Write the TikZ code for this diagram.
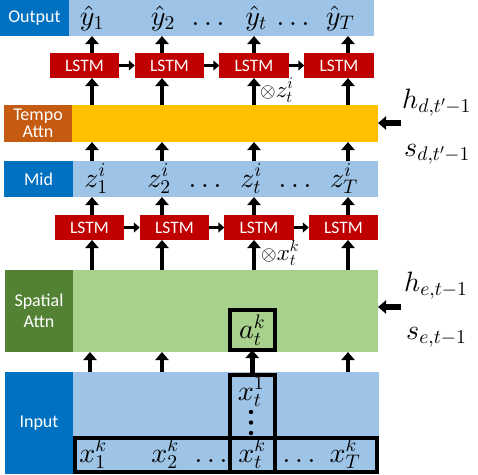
\documentclass[tikz,border=0pt]{standalone}
\usepackage{fontspec}
\newfontfamily\labfont{Carlito}
\DeclareFontShape{OML}{cmm}{m}{it}{<->cmmi10}{}
\DeclareFontShape{OML}{cmm}{b}{it}{<->cmmib10}{}
\DeclareFontShape{OMS}{cmsy}{m}{n}{<->cmsy10}{}
\DeclareFontShape{OMS}{cmsy}{b}{n}{<->cmbsy10}{}
\DeclareFontShape{OT1}{cmr}{m}{n}{<->cmr10}{}
\usetikzlibrary{arrows.meta}
\definecolor{dblue}{HTML}{0070C0}
\definecolor{lblue}{HTML}{9DC3E6}
\definecolor{lstmred}{HTML}{C00000}
\definecolor{gold}{HTML}{FFC000}
\definecolor{rust}{HTML}{C55A11}
\definecolor{dgreen}{HTML}{548235}
\definecolor{lgreen}{HTML}{A9D18E}
\newcommand\mfont{\fontsize{28}{33}\selectfont}
\newcommand\otfont{\fontsize{20}{24}\selectfont}
\begin{document}
\begin{tikzpicture}[x=1pt,y=-1pt,
  band/.style={inner sep=0pt,outer sep=0pt,draw=none},
  lab/.style={band,text=white,align=center,font=\labfont\fontsize{18}{16.5}\selectfont},
  lstm/.style={band,fill=lstmred,text=white,font=\labfont\fontsize{17.5}{20}\selectfont,minimum width=69.5pt,minimum height=25pt},
  math/.style={font=\mfont,inner sep=0pt,anchor=base},
  up/.style={line width=4.5pt,-{Triangle[width=13pt,length=8pt]}},
  side/.style={line width=3.5pt,-{Triangle[width=10pt,length=6pt]}},
  inarrow/.style={line width=5.5pt,-{Triangle[width=13pt,length=8pt]}},
  frame/.style={draw=black,line width=4pt,inner sep=0pt,outer sep=0pt},
  mult/.style={font=\fontsize{23}{27}\selectfont,inner sep=0pt,anchor=base west}]
\useasboundingbox (0,0) rectangle (478,474);
% rows
\node[lab,fill=dblue,minimum width=69pt,minimum height=36pt] (outL) at (34.5,18) {Output};
\node[band,fill=lblue,minimum width=305pt,minimum height=36pt] (outB) at (221.5,18) {};
\node[lab,fill=rust,minimum width=68pt,minimum height=37pt] (tmpL) at (38,123.5) {Tempo\\Attn};
\node[band,fill=gold,minimum width=306pt,minimum height=37pt] (tmpB) at (225,123.5) {};
\node[lab,fill=dblue,minimum width=69pt,minimum height=36pt] (midL) at (38.5,179) {Mid};
\node[band,fill=lblue,minimum width=305pt,minimum height=36pt] (midB) at (225.5,179) {};
\node[lab,fill=dgreen,minimum width=68pt,minimum height=82pt,font=\labfont\fontsize{18}{21}\selectfont] (spL) at (39,311) {Spatial\\Attn};
\node[band,fill=lgreen,minimum width=305pt,minimum height=82pt] (spB) at (225.5,311) {};
\node[lab,fill=dblue,minimum width=68pt,minimum height=102pt] (inL) at (39,423) {Input};
\node[band,fill=lblue,minimum width=306pt,minimum height=102pt] (inB) at (226,423) {};
% LSTM rows
\node[lstm] (lt1) at (84.5,65.5) {LSTM};
\node[lstm] (lt2) at (169.5,65.5) {LSTM};
\node[lstm] (lt3) at (254,65.5) {LSTM};
\node[lstm] (lt4) at (339,65.5) {LSTM};
\node[lstm] (lm1) at (89.5,227.5) {LSTM};
\node[lstm] (lm2) at (174.5,227.5) {LSTM};
\node[lstm] (lm3) at (259,227.5) {LSTM};
\node[lstm] (lm4) at (343.5,227.5) {LSTM};
% columns
\coordinate (c1) at (92,0);
\coordinate (c2) at (162,0);
\coordinate (c3) at (254,0);
\coordinate (c4) at (348,0);
\coordinate (d1) at (90,0);
\coordinate (d2) at (162,0);
\coordinate (d4) at (348,0);
\foreach \i in {1,2,3,4}{
  \draw[up] (lt\i.north -| c\i) -- (outB.south -| c\i);
  \draw[up] (tmpB.north -| c\i) -- (lt\i.south -| c\i);
  \draw[up] (midB.north -| c\i) -- (tmpB.south -| c\i);
  \draw[up] (lm\i.north -| c\i) -- (midB.south -| c\i);
  \draw[up] (spB.north -| c\i) -- (lm\i.south -| c\i);
}
\foreach \a/\b in {1/2,2/3,3/4}{
  \draw[side] (lt\a.east) -- (lt\b.west);
  \draw[side] (lm\a.east) -- (lm\b.west);
}
% output values
\node[math] (y1) at (92,25) {$\hat{y}_1$};
\node[math] (y2) at (163,25) {$\hat{y}_2$};
\node[math] (yd1) at (208,25) {$\ldots$};
\node[math] (yt) at (256,25) {$\hat{y}_t$};
\node[math] (yd2) at (293,25) {$\ldots$};
\node[math] (yT) at (340,25) {$\hat{y}_T$};
% mid values
\node[math] (z1) at (96,187) {$z_1^i$};
\node[math] (z2) at (159,187) {$z_2^i$};
\node[math] (zd1) at (205,187) {$\ldots$};
\node[math] (zt) at (251,187) {$z_t^i$};
\node[math] (zd2) at (295,187) {$\ldots$};
\node[math] (zT) at (344,187) {$z_T^i$};
% multiplications
\node[mult] (oz) at (260,97) {{\otfont$\otimes$}$z_t^i$};
\node[mult] (ox) at (261,260) {{\otfont$\otimes$}$x_t^k$};
% right inputs
\coordinate (hT) at (401,123);
\coordinate (hS) at (401,307);
\draw[inarrow] (hT) -- (tmpB.east |- hT);
\draw[inarrow] (hS) -- (spB.east |- hS);
\node[math,anchor=base west] (hd) at (402,108) {$h_{d,t'-1}$};
\node[math,anchor=base west] (sd) at (404,156) {$s_{d,t'-1}$};
\node[math,anchor=base west] (he) at (404,291) {$h_{e,t-1}$};
\node[math,anchor=base west] (se) at (406,339) {$s_{e,t-1}$};
% input frames
\node[frame,minimum width=302pt,minimum height=34pt] (rowF) at (226,455) {};
\node[frame,minimum width=45.5pt,minimum height=97pt] (colF) at (252.25,423.5) {};
\node[frame,minimum width=45.5pt,minimum height=40pt,font=\mfont] (ak) at (252.25,330) {$a_t^k$};
\node[math] (x1) at (93,462) {$x_1^k$};
\node[math] (x2) at (165,462) {$x_2^k$};
\node[math] (xd1) at (211,462) {$\ldots$};
\node[math] (xt) at (252,462) {$x_t^k$};
\node[math] (xd2) at (299,462) {$\ldots$};
\node[math] (xT) at (345,462) {$x_T^k$};
\node[math] (xt1) at (251,400) {$x_t^1$};
\foreach \yy in {412,422.5,433}{\fill (251,\yy) circle (2.2pt);}
% input to spatial arrows
\draw[up] (inB.north -| d1) -- (spB.south -| d1);
\draw[up] (inB.north -| d2) -- (spB.south -| d2);
\draw[up] (colF.north) -- (ak.south);
\draw[up] (inB.north -| d4) -- (spB.south -| d4);
\end{tikzpicture}
\end{document}
